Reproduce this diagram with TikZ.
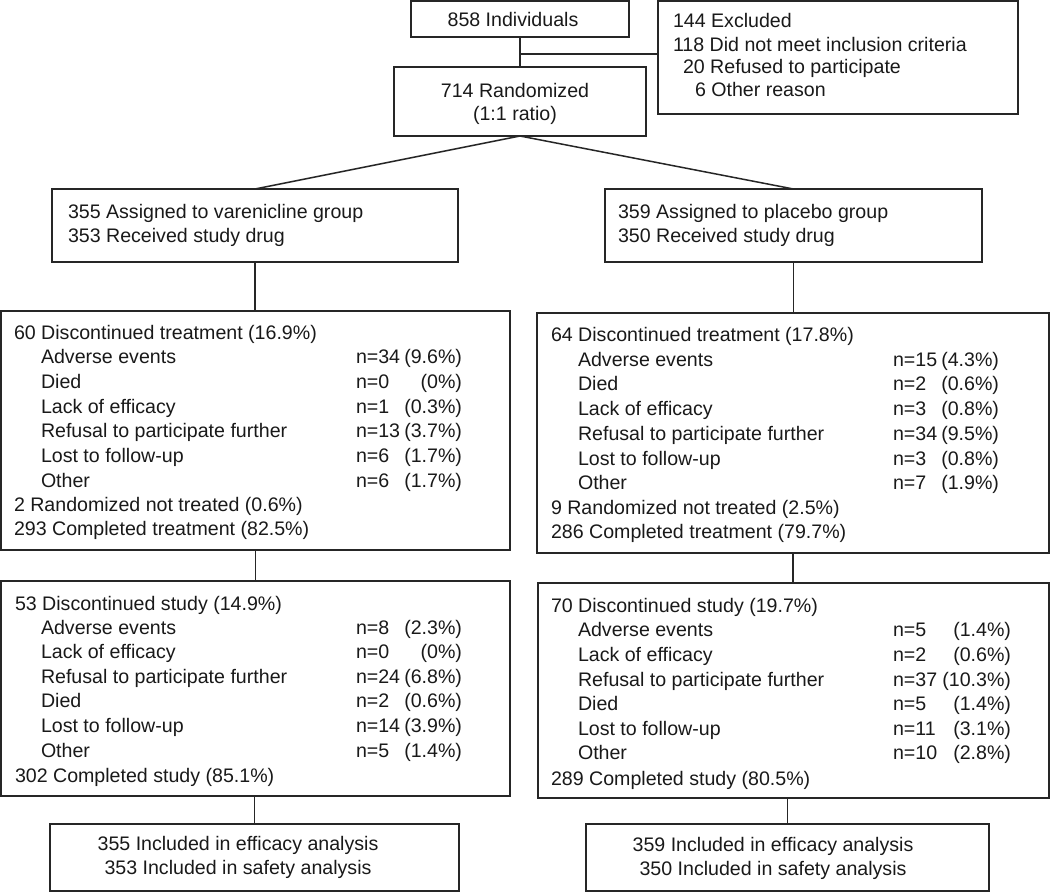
\documentclass[tikz,border=0pt]{standalone}
\usepackage{fontspec}
\setmainfont{Liberation Sans}
\begin{document}
\begin{tikzpicture}[x=1pt,y=-1pt,
  box/.style={draw=black!85, line width=1.5pt, rectangle, inner sep=0pt, outer sep=0pt},
  txt/.style={inner sep=0pt, outer sep=0pt, text=black!90},
  link/.style={draw=black!85, line width=1.5pt}]
\fontsize{19.6}{23.5}\selectfont
\useasboundingbox (0,0) rectangle (1050,892);
\newcounter{tn}
\newcommand\boxat[5]{%
  \pgfmathsetmacro\bw{#4-#2}\pgfmathsetmacro\bh{#5-#3}%
  \pgfmathsetmacro\bcx{(#2+#4)/2}\pgfmathsetmacro\bcy{(#3+#5)/2}%
  \node[box, minimum width=\bw pt, minimum height=\bh pt] (#1) at (\bcx,\bcy) {};}
\newcommand\tx[3]{\stepcounter{tn}\edef\tnn{\arabic{tn}}%
  \node[txt, anchor=base west] (t\tnn) at (#1,{#2+7}) {#3};}
\newcommand\tcen[3]{\stepcounter{tn}\edef\tnn{\arabic{tn}}%
  \node[txt, anchor=base] (t\tnn) at (#1,{#2+7}) {#3};}
\newcommand\trow[7]{\stepcounter{tn}\edef\tnn{\arabic{tn}}%
  \node[txt, anchor=base west] (t\tnn a) at (#1,{#2+7}) {#3};
  \node[txt, anchor=base west] (t\tnn b) at (#4,{#2+7}) {#5};
  \node[txt, anchor=base east] (t\tnn c) at (#6,{#2+7}) {#7};}

% top
\boxat{indiv}{411}{1}{629}{37}
\tcen{513}{19}{858 Individuals}
\boxat{excl}{658}{1}{1018}{114}
\tx{673}{20}{144 Excluded}
\tx{673}{44}{118 Did not meet inclusion criteria}
\tx{683}{66}{20 Refused to participate}
\tx{695}{89}{6 Other reason}
\boxat{rand}{394}{67}{646}{136}
\tcen{515}{90}{714 Randomized}
\tcen{515}{113}{(1:1 ratio)}

% assigned
\boxat{lassign}{52}{189}{458}{262}
\tx{68}{211}{355 Assigned to varenicline group}
\tx{68}{235}{353 Received study drug}
\boxat{rassign}{605}{189}{982}{262}
\tx{618}{211}{359 Assigned to placebo group}
\tx{618}{235}{350 Received study drug}

% left treatment
\boxat{ltreat}{1}{311}{510}{550}
\tx{14}{332}{60 Discontinued treatment (16.9\%)}
\trow{41}{356}{Adverse events}{356}{n=34}{462}{(9.6\%)}
\trow{41}{381}{Died}{356}{n=0}{462}{(0\%)}
\trow{41}{406}{Lack of efficacy}{356}{n=1}{462}{(0.3\%)}
\trow{41}{430}{Refusal to participate further}{356}{n=13}{462}{(3.7\%)}
\trow{41}{455}{Lost to follow-up}{356}{n=6}{462}{(1.7\%)}
\trow{41}{480}{Other}{356}{n=6}{462}{(1.7\%)}
\tx{14}{504}{2 Randomized not treated (0.6\%)}
\tx{14}{528}{293 Completed treatment (82.5\%)}

% right treatment
\boxat{rtreat}{537}{313}{1049}{553}
\tx{551}{334}{64 Discontinued treatment (17.8\%)}
\trow{578}{359}{Adverse events}{893}{n=15}{999}{(4.3\%)}
\trow{578}{383}{Died}{893}{n=2}{999}{(0.6\%)}
\trow{578}{408}{Lack of efficacy}{893}{n=3}{999}{(0.8\%)}
\trow{578}{433}{Refusal to participate further}{893}{n=34}{999}{(9.5\%)}
\trow{578}{458}{Lost to follow-up}{893}{n=3}{999}{(0.8\%)}
\trow{578}{482}{Other}{893}{n=7}{999}{(1.9\%)}
\tx{551}{507}{9 Randomized not treated (2.5\%)}
\tx{551}{531}{286 Completed treatment (79.7\%)}

% left study
\boxat{lstudy}{1}{581}{510}{796}
\tx{15}{603}{53 Discontinued study (14.9\%)}
\trow{41}{627}{Adverse events}{356}{n=8}{462}{(2.3\%)}
\trow{41}{651}{Lack of efficacy}{356}{n=0}{462}{(0\%)}
\trow{41}{676}{Refusal to participate further}{356}{n=24}{462}{(6.8\%)}
\trow{41}{700}{Died}{356}{n=2}{462}{(0.6\%)}
\trow{41}{725}{Lost to follow-up}{356}{n=14}{462}{(3.9\%)}
\trow{41}{750}{Other}{356}{n=5}{462}{(1.4\%)}
\tx{15}{775}{302 Completed study (85.1\%)}

% right study
\boxat{rstudy}{538}{583}{1049}{798}
\tx{551}{605}{70 Discontinued study (19.7\%)}
\trow{578}{629}{Adverse events}{893}{n=5}{1011}{(1.4\%)}
\trow{578}{654}{Lack of efficacy}{893}{n=2}{1011}{(0.6\%)}
\trow{578}{679}{Refusal to participate further}{893}{n=37}{1011}{(10.3\%)}
\trow{578}{703}{Died}{893}{n=5}{1011}{(1.4\%)}
\trow{578}{728}{Lost to follow-up}{893}{n=11}{1011}{(3.1\%)}
\trow{578}{752}{Other}{893}{n=10}{1011}{(2.8\%)}
\tx{551}{778}{289 Completed study (80.5\%)}

% final
\boxat{lfinal}{50}{824}{459}{891}
\tcen{238}{843}{355 Included in efficacy analysis}
\tcen{238}{867}{353 Included in safety analysis}
\boxat{rfinal}{586}{824}{989}{891}
\tcen{773}{844}{359 Included in efficacy analysis}
\tcen{773}{868}{350 Included in safety analysis}

% connectors
\coordinate (jn) at (520,54);
\draw[link] (indiv.south -| jn) -- (rand.north -| jn);
\draw[link] (jn) -- (jn -| excl.west);
\draw[link] (rand.south -| jn) -- (lassign.north);
\draw[link] (rand.south -| jn) -- (rassign.north);
\draw[link] (lassign.south) -- (ltreat.north -| lassign.south);
\draw[link] (rassign.south) -- (rtreat.north -| rassign.south);
\draw[link] (ltreat.south) -- (lstudy.north -| ltreat.south);
\draw[link] (rtreat.south) -- (rstudy.north -| rtreat.south);
\draw[link] (lfinal.north) -- (lstudy.south -| lfinal.north);
\draw[link] (rfinal.north) -- (rstudy.south -| rfinal.north);
\end{tikzpicture}
\end{document}
